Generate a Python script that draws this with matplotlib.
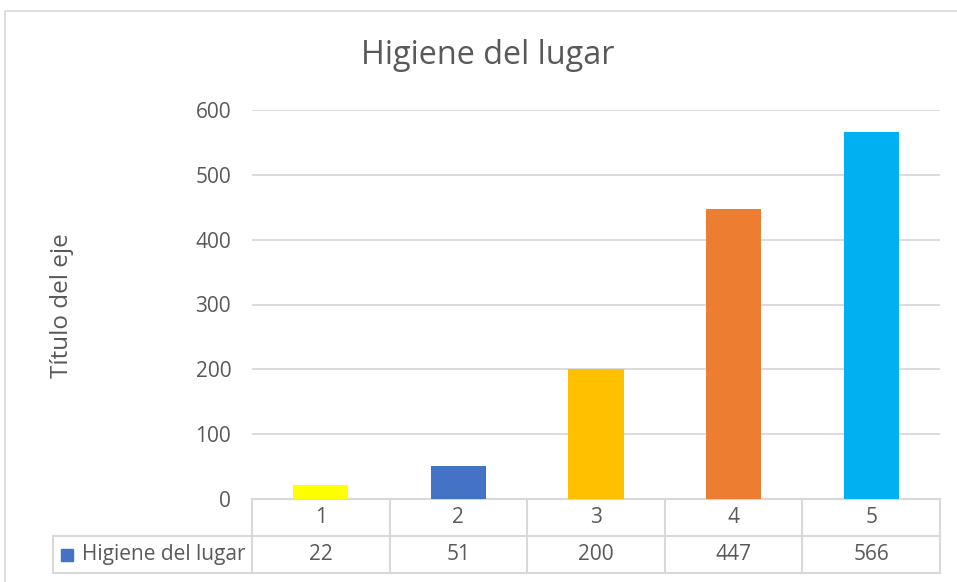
import numpy as np
import matplotlib.pyplot as plt
from matplotlib.patches import Rectangle

# datos
categorias = ['1', '2', '3', '4', '5']
valores = [22, 51, 200, 447, 566]
colores = ['#FFFF00', '#4472C4', '#FFC000', '#ED7D31', '#00B0F0']
serie = 'Higiene del lugar'
titulo = 'Higiene del lugar'
titulo_eje = 'Título del eje'
ticks_y = [0, 100, 200, 300, 400, 500, 600]

plt.rcParams['font.family'] = ['Open Sans', 'DejaVu Sans']
gris_texto = '#595959'
gris_linea = '#D9D9D9'
fs = 15

W, H = 957, 582
fig = plt.figure(figsize=(W / 100, H / 100), dpi=100)

# borde exterior del grafico
fig.patches.append(Rectangle((5 / W, -0.1), 1.2, (H - 11) / H + 0.1, transform=fig.transFigure,
                             fill=False, edgecolor=gris_linea, linewidth=1.2))

ax = fig.add_axes([252 / W, 83 / H, (940 - 252) / W, (499 - 110) / H])
x = np.arange(len(categorias))
ax.bar(x, valores, width=0.4, color=colores, zorder=3)
ax.set_xlim(-0.5, len(categorias) - 0.5)
ax.set_ylim(0, 600)
ax.set_yticks(ticks_y)
ax.tick_params(axis='y', length=0, pad=15, labelsize=fs, labelcolor=gris_texto)
ax.set_xticks([])
ax.grid(axis='y', color=gris_linea, linewidth=1.3, zorder=0)
for s in ax.spines.values():
    s.set_visible(False)

fig.text(488 / W, 1 - 56 / H, titulo, fontsize=23.3, color=gris_texto, ha='center', va='center')
fig.text(62 / W, 1 - 306 / H, titulo_eje, rotation=90, fontsize=17.5, color=gris_texto,
         ha='center', va='center')

# tabla de datos
tr = ax.get_xaxis_transform()
fila = 37 / 389
izq = -0.5 - (252 - 53) / 137.6
der = len(categorias) - 0.5
kw = dict(color=gris_linea, linewidth=1.5, clip_on=False, transform=tr)
ax.plot([-0.5, der], [0, 0], **kw)
ax.plot([izq, der], [-fila, -fila], **kw)
ax.plot([izq, der], [-2 * fila, -2 * fila], **kw)
ax.plot([izq, izq], [-fila, -2 * fila], **kw)
for b in np.arange(len(categorias) + 1) - 0.5:
    ax.plot([b, b], [0, -2 * fila], **kw)

for i, (c, v) in enumerate(zip(categorias, valores)):
    ax.text(i, -0.5 * fila, c, transform=tr, ha='center', va='center', fontsize=fs, color=gris_texto)
    ax.text(i, -1.5 * fila, str(v), transform=tr, ha='center', va='center', fontsize=fs, color=gris_texto)

ax.plot([izq + 0.1], [-1.5 * fila], marker='s', markersize=9, color='#4472C4', transform=tr, clip_on=False)
ax.text(izq + 0.21, -1.5 * fila, serie, transform=tr, ha='left', va='center', fontsize=fs, color=gris_texto)

fig.savefig('out.png', dpi=100)
